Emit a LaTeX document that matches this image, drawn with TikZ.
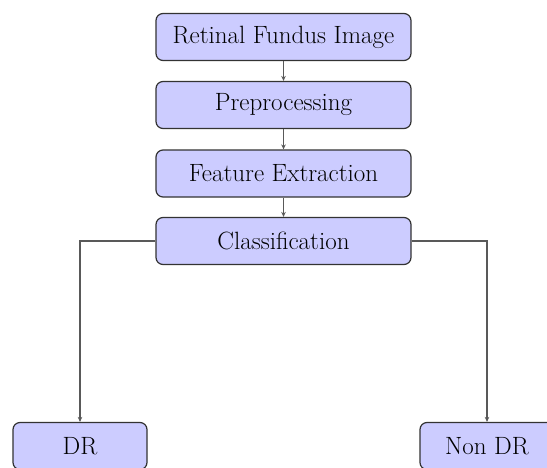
\documentclass[tikz,border=0pt]{standalone}
\usetikzlibrary{arrows.meta}
\begin{document}
\begin{tikzpicture}[x=1pt,y=-1pt,
  box/.style={draw=black!80, line width=1.2pt, fill=blue!20, rounded corners=7pt,
    minimum width=255pt, minimum height=47pt, inner sep=0pt,
    font=\fontsize{25}{30}\selectfont},
  leaf/.style={box, minimum width=134pt},
  conn/.style={draw=black!65, line width=1.1pt, -{Stealth[length=5pt,width=4.5pt]}}]
\useasboundingbox (0,0) rectangle (547,467);
\clip (0,0) rectangle (547,467);
\node[box] (img) at (283.5,37) {Retinal Fundus Image};
\node[box] (pre) at (283.5,105) {Preprocessing};
\node[box] (fe) at (283.5,173.5) {Feature Extraction};
\node[box] (cls) at (283.5,241) {Classification};
\node[leaf] (dr) at (80,446) {DR};
\node[leaf] (ndr) at (487,446) {Non DR};
\draw[conn] (img) -- (pre);
\draw[conn] (pre) -- (fe);
\draw[conn] (fe) -- (cls);
\draw[conn] (cls.west) -| (dr.north);
\draw[conn] (cls.east) -| (ndr.north);
\end{tikzpicture}
\end{document}
